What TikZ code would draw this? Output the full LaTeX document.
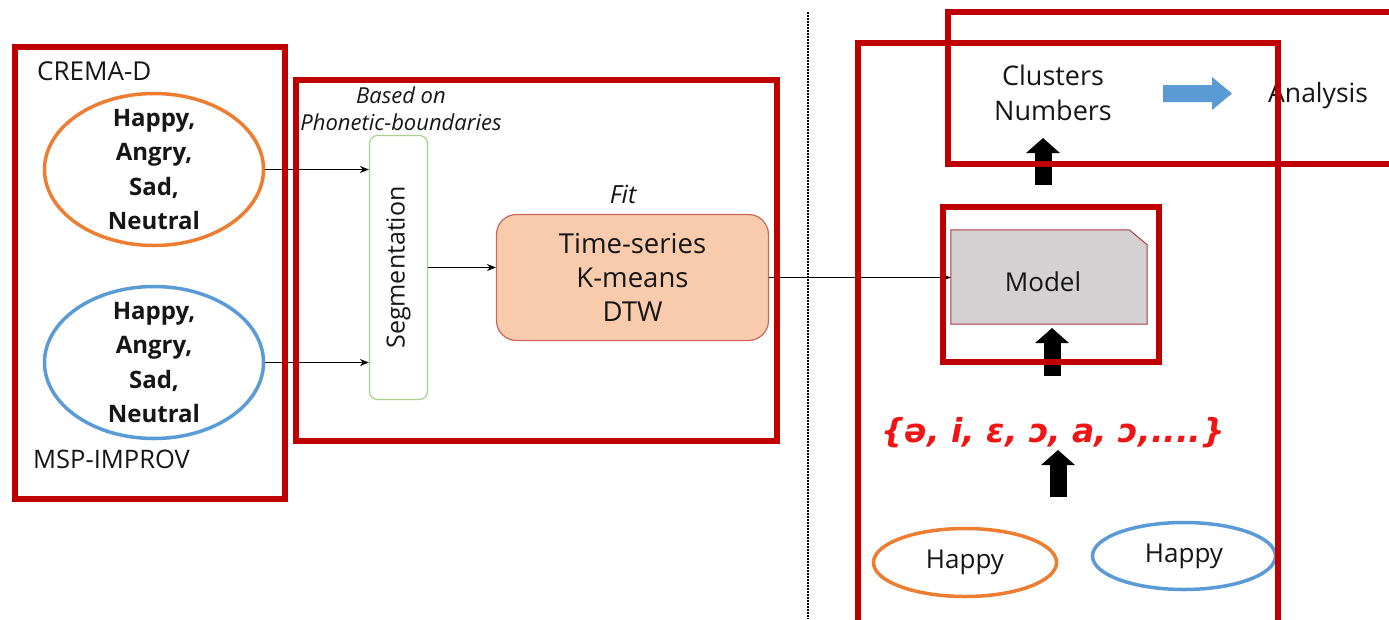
\documentclass[tikz,border=0pt]{standalone}
\usepackage{fontspec}
\setmainfont{Open Sans}
\newfontfamily\ipafont{DejaVu Sans}
\usetikzlibrary{arrows.meta,shapes.geometric}

\definecolor{frame}{HTML}{C00000}
\definecolor{orng}{HTML}{ED7D31}
\definecolor{blu}{HTML}{5B9BD5}
\definecolor{peach}{HTML}{F8CBAD}
\definecolor{tsline}{HTML}{C8675C}
\definecolor{grn}{HTML}{A9D18E}
\definecolor{mgray}{HTML}{D3D1D1}
\definecolor{modelline}{HTML}{B03A3A}
\definecolor{ink}{HTML}{161616}
\definecolor{ipared}{HTML}{F01414}

\begin{document}
\begin{tikzpicture}[x=1pt,y=-1pt,
  redframe/.style={draw=frame, line width=6pt},
  txt/.style={inner sep=0pt, text=ink},
  thinarrow/.style={draw=black, line width=1.2pt, -{Stealth[length=9pt,width=7pt]}},
  fatarrow/.style={draw=black, line width=17pt, -{Triangle[length=15pt,width=33pt]}},
  emotion/.style={ellipse, draw, line width=3.5pt, inner sep=0pt},
  bigtext/.style={font=\fontsize{26}{34}\selectfont},
  emolist/.style={txt, align=center, font=\bfseries\fontsize{24}{34.3}\selectfont},
  note/.style={txt, anchor=base, font=\itshape\fontsize{22}{27}\selectfont},
]
\useasboundingbox (0,0) rectangle (1389,619);
\clip (0,0) rectangle (1389,619);
\fill[white] (0,0) rectangle (1389,619);

% divider between training and inference
\draw[line width=1.6pt, dash pattern=on 1.6pt off 1.4pt] (808,12) -- (808,619);

% ---------- datasets ----------
\node[txt, anchor=base west, font=\fontsize{26}{30}\selectfont] (crema) at (37,80) {CREMA-D};
\node[emotion, draw=orng, minimum width=219pt, minimum height=152pt] (e1) at (154,169.5) {};
\node[emolist] (e1t) at (e1) {Happy,\\Angry,\\Sad,\\Neutral};
\node[emotion, draw=blu, minimum width=219pt, minimum height=152pt] (e2) at (154,362.5) {};
\node[emolist] (e2t) at (e2) {Happy,\\Angry,\\Sad,\\Neutral};
\node[txt, anchor=base west, font=\fontsize{25.5}{30}\selectfont] (msp) at (33,468) {MSP-IMPROV};

% ---------- segmentation and clustering ----------
\node[note] (based) at (401,103) {Based on};
\node[note] (phb) at (401,130) {Phonetic-boundaries};
\node[draw=grn, line width=1.2pt, rounded corners=8pt, minimum width=58pt, minimum height=264pt] (seg) at (398.5,267.5) {};
\node[txt, rotate=90, font=\fontsize{25}{30}\selectfont] (segt) at (seg) {Segmentation};

\node[txt, anchor=base, font=\itshape\fontsize{25}{28}\selectfont] (fit) at (623,203) {Fit};
\node[draw=tsline, fill=peach, line width=1.2pt, rounded corners=20pt, minimum width=272pt,
      minimum height=126pt, align=center, text=ink, font=\fontsize{27.5}{34}\selectfont] (ts) at (632.5,277.5) {Time-series\\K-means\\DTW};

\draw[thinarrow] (e1.east) -- (e1.east -| seg.west);
\draw[thinarrow] (e2.east) -- (e2.east -| seg.west);
\draw[thinarrow] (seg.east) -- (seg.east -| ts.west);

% ---------- inference ----------
\node[inner sep=0pt, minimum width=196pt, minimum height=94pt] (model) at (1049,277) {};
\filldraw[draw=modelline, fill=mgray, line width=1pt]
  (model.south west) -- (model.north west) -- ([xshift=-18pt]model.north east)
  -- ([yshift=-15pt]model.north east) -- (model.south east) -- cycle;
\node[txt, bigtext] (modelt) at ([xshift=-6pt,yshift=-5pt]model.center) {Model};
\draw[thinarrow] (ts.east) -- (ts.east -| model.west);

\node[txt, align=center, font=\fontsize{27}{35}\selectfont] (clus) at (1053,93) {Clusters\\Numbers};
\node[txt, anchor=base west, font=\fontsize{26.5}{30}\selectfont] (anal) at (1268,102) {Analysis};
\fill[blu] (1163,85) -- (1212,85) -- (1212,77) -- (1232,93.5) -- (1212,110) -- (1212,102) -- (1163,102) -- cycle;

\node[txt, anchor=base, text=ipared, font=\ipafont\bfseries\itshape\fontsize{33}{40}\selectfont] (phon) at (1053,442) {\{ə, i, ɛ, ɔ, a, ɔ,....\}};

\node[emotion, draw=orng, minimum width=183pt, minimum height=68pt, text=ink, bigtext] (h1) at (965,562.5) {Happy};
\node[emotion, draw=blu, minimum width=183pt, minimum height=67pt, text=ink, bigtext] (h2) at (1184,556) {Happy};

\coordinate (f1a) at (1043,185); \coordinate (f1b) at (1043,138);
\coordinate (f2a) at (1052,376); \coordinate (f2b) at (1052,328);
\coordinate (f3a) at (1058,497); \coordinate (f3b) at (1058,450);
\draw[fatarrow] (f1a) -- (f1b);
\draw[fatarrow] (f2a) -- (f2b);
\draw[fatarrow] (f3a) -- (f3b);

% ---------- highlight frames ----------
\draw[redframe] (15,47) rectangle (285,499);
\draw[redframe] (296,80) rectangle (777,441);
\draw[redframe] (858,43) rectangle (1278,640);
\draw[redframe] (948,12) rectangle (1400,164);
\draw[redframe] (943,207) rectangle (1159,362);
\end{tikzpicture}
\end{document}
